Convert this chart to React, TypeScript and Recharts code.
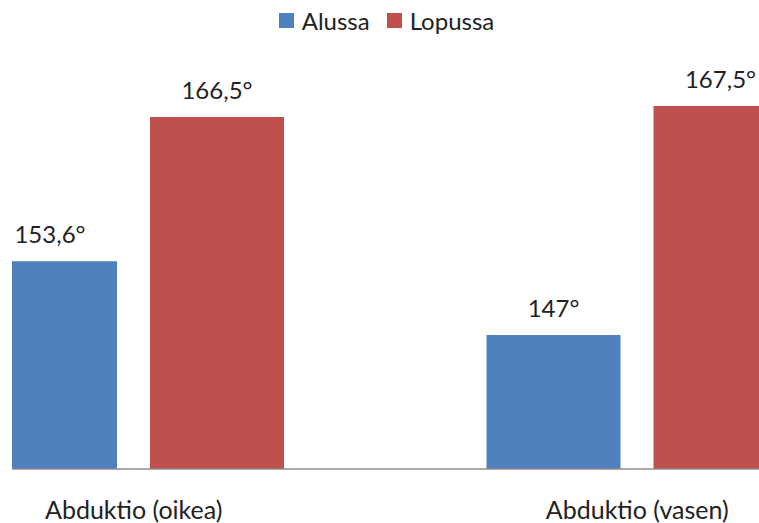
import React from 'react'
import { BarChart, Bar, XAxis, YAxis, Legend, LabelList } from 'recharts'

// two movements, start vs end of the period (degrees)
const CATEGORIES = ['Abduktio (oikea)', 'Abduktio (vasen)']
const ALUSSA = [153.6, 147]
const LOPUSSA = [166.5, 167.5]
const Y_DOMAIN = [135, 170]

const DATA = CATEGORIES.map((name, i) => ({
  name,
  alussa: ALUSSA[i],
  lopussa: LOPUSSA[i],
}))

const FONT = 'Lato, "Open Sans", sans-serif'
const BLUE = '#4F81BD'
const RED = '#C0504D'

const fmt = (v: number) => `${String(v).replace('.', ',')}°`

function LegendContent() {
  const items = [
    { label: 'Alussa', color: BLUE },
    { label: 'Lopussa', color: RED },
  ]
  return (
    <div style={{ display: 'flex', justifyContent: 'center', gap: 17, fontFamily: FONT, fontSize: 24, color: '#222' }}>
      {items.map((it) => (
        <div key={it.label} style={{ display: 'flex', alignItems: 'center', gap: 8 }}>
          <span style={{ width: 15, height: 15, background: it.color, display: 'inline-block' }} />
          <span>{it.label}</span>
        </div>
      ))}
    </div>
  )
}

export default function App() {
  return (
    <div style={{ position: 'absolute', left: 0, top: 0, width: 759, height: 523, overflow: 'hidden', background: '#fff' }}>
      <div style={{ position: 'absolute', left: 12, top: 0, width: 747, height: 523, overflow: 'hidden' }}>
        <div style={{ position: 'absolute', left: -130, top: 0 }}>
          <BarChart
            width={1007}
            height={523}
            data={DATA}
            margin={{ top: 78, right: 0, bottom: 0, left: 0 }}
            barSize={134}
            barGap={33}
          >
            <Legend
              verticalAlign="middle"
              layout="horizontal"
              content={<LegendContent />}
              wrapperStyle={{ top: 6, left: 0, width: 1007 + 2 }}
            />
            <XAxis
              dataKey="name"
              height={54}
              axisLine={{ stroke: '#8c8c8c', strokeWidth: 1.5 }}
              tickLine={false}
              tickMargin={26}
              tick={{ fill: '#222', fontSize: 25, fontFamily: FONT }}
              interval={0}
            />
            <YAxis hide domain={Y_DOMAIN} allowDataOverflow />
            <Bar dataKey="alussa" fill={BLUE} isAnimationActive={false}>
              <LabelList
                dataKey="alussa"
                position="top"
                offset={18}
                formatter={fmt}
                style={{ fill: '#222', fontSize: 24, fontFamily: FONT }}
              />
            </Bar>
            <Bar dataKey="lopussa" fill={RED} isAnimationActive={false}>
              <LabelList
                dataKey="lopussa"
                position="top"
                offset={18}
                formatter={fmt}
                style={{ fill: '#222', fontSize: 24, fontFamily: FONT }}
              />
            </Bar>
          </BarChart>
        </div>
      </div>
    </div>
  )
}
